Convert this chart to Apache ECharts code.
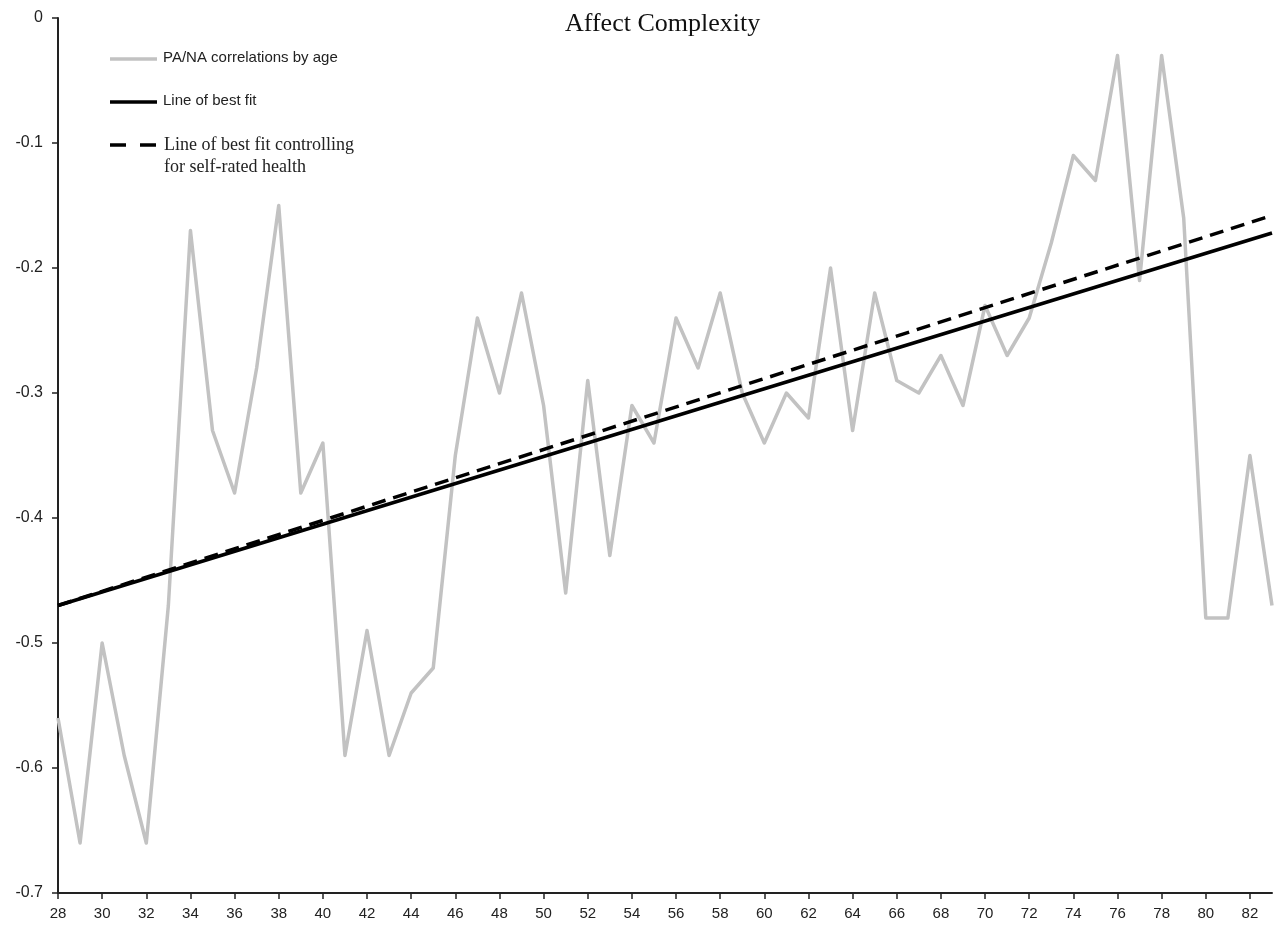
<!DOCTYPE html>
<html>
<head>
<meta charset="utf-8">
<script src="https://cdn.jsdelivr.net/npm/echarts@6/dist/echarts.min.js"></script>
<style>
  html, body { margin: 0; padding: 0; background: #fff; }
  #chart { width: 1280px; height: 929px; }
</style>
</head>
<body>
<div id="chart"></div>
<script>
// Ages on the x axis
const ages = [];
for (let a = 28; a <= 83; a++) ages.push(String(a));

// PA/NA correlation for each age, 28..83
const correlations = [
  -0.56, -0.66, -0.50, -0.59, -0.66, -0.47, -0.17, -0.33, -0.38, -0.28,
  -0.15, -0.38, -0.34, -0.59, -0.49, -0.59, -0.54, -0.52, -0.35, -0.24,
  -0.30, -0.22, -0.31, -0.46, -0.29, -0.43, -0.31, -0.34, -0.24, -0.28,
  -0.22, -0.30, -0.34, -0.30, -0.32, -0.20, -0.33, -0.22, -0.29, -0.30,
  -0.27, -0.31, -0.23, -0.27, -0.24, -0.18, -0.11, -0.13, -0.03, -0.21,
  -0.03, -0.16, -0.48, -0.48, -0.35, -0.47
];

// Fitted lines, given by their end points [age, value]
const bestFit = [['28', -0.470], ['83', -0.172]];
const bestFitHealth = [['28', -0.470], ['83', -0.158]];

// Y axis range and step
const yMin = -0.7, yMax = 0, yStep = 0.1;

const sansFont = "'Liberation Sans Narrow', 'Liberation Sans', sans-serif";
const serifFont = "'Liberation Serif', 'DejaVu Serif', serif";

const chart = echarts.init(document.getElementById('chart'));
chart.setOption({
  animation: false,
  backgroundColor: '#fff',
  title: {
    text: 'Affect Complexity',
    left: 560,
    top: 6,
    textStyle: { fontFamily: serifFont, fontSize: 26, fontWeight: 'normal', color: '#111' }
  },
  grid: { left: 58, right: 8, top: 18, bottom: 36, containLabel: false },
  xAxis: {
    type: 'category',
    data: ages,
    boundaryGap: false,
    axisLine: { onZero: false, lineStyle: { color: '#222', width: 2 } },
    axisTick: { show: true, interval: 1, length: 6, lineStyle: { color: '#222', width: 1.5 } },
    axisLabel: { interval: 1, margin: 13, color: '#222', fontFamily: sansFont, fontSize: 15 },
    splitLine: { show: false }
  },
  yAxis: {
    type: 'value',
    min: yMin,
    max: yMax,
    interval: yStep,
    axisLine: { show: true, lineStyle: { color: '#222', width: 2 } },
    axisTick: { show: true, length: 6, lineStyle: { color: '#222', width: 1.5 } },
    axisLabel: {
      margin: 15, color: '#222', fontFamily: "'Liberation Sans', Arial, sans-serif", fontSize: 16,
      formatter: v => (Math.abs(v) < 1e-9 ? '0' : v.toFixed(1))
    },
    splitLine: { show: false }
  },
  series: [
    {
      name: 'PA/NA correlations by age',
      type: 'line',
      data: correlations,
      symbol: 'none',
      lineStyle: { color: '#c2c2c2', width: 3.5, join: 'round' },
      z: 1
    },
    {
      name: 'Line of best fit',
      type: 'line',
      data: bestFit,
      symbol: 'none',
      lineStyle: { color: '#000', width: 3.5 },
      z: 3
    },
    {
      name: 'Line of best fit controlling for self-rated health',
      type: 'line',
      data: bestFitHealth,
      symbol: 'none',
      lineStyle: { color: '#000', width: 3.5, type: [14, 8] },
      z: 2
    }
  ],
  graphic: [
    // legend keys
    { type: 'line', shape: { x1: 110, y1: 59, x2: 157, y2: 59 }, style: { stroke: '#c2c2c2', lineWidth: 3.5 } },
    { type: 'text', left: 163, top: 50, style: { text: 'PA/NA correlations by age', font: "15px 'Liberation Sans Narrow', 'Liberation Sans', sans-serif", fill: '#222' } },
    { type: 'line', shape: { x1: 110, y1: 102, x2: 157, y2: 102 }, style: { stroke: '#000', lineWidth: 3.5 } },
    { type: 'text', left: 163, top: 93, style: { text: 'Line of best fit', font: "15px 'Liberation Sans Narrow', 'Liberation Sans', sans-serif", fill: '#222' } },
    { type: 'line', shape: { x1: 110, y1: 145, x2: 157, y2: 145 }, style: { stroke: '#000', lineWidth: 3.5, lineDash: [16, 14] } },
    { type: 'text', left: 164, top: 134, style: { text: 'Line of best fit controlling\nfor self-rated health', font: "18px 'Liberation Serif', serif", lineHeight: 22, fill: '#222' } }
  ]
});
</script>
</body>
</html>
